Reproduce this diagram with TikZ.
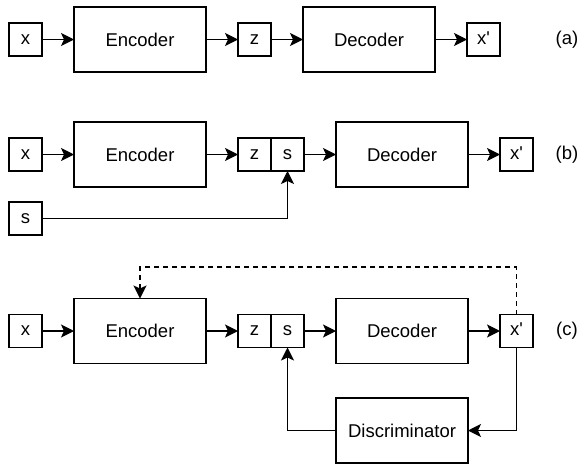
\documentclass[tikz,border=0pt]{standalone}
\usepackage{fontspec}
\setmainfont{Liberation Sans}
\usetikzlibrary{positioning,arrows.meta}
\tikzset{arrow/.style={-{Stealth[length=13pt,width=13pt,inset=3pt]}, line width=1.3pt}}
\tikzstyle{feedback} = [arrow, dash pattern=on 5pt off 4pt]
\tikzstyle{block} = [rectangle, draw, line width=1.3pt, outer sep=0pt, minimum width=132pt, minimum height=65pt, font=\fontsize{18.5}{22}\selectfont]
\tikzstyle{var} = [rectangle, draw, line width=1.3pt, outer sep=0pt, inner sep=0pt, minimum size=33pt, text height=9.5pt, text depth=0pt, font=\fontsize{18.5}{22}\selectfont]
\tikzstyle{tag} = [font=\fontsize{18.5}{22}\selectfont]

\begin{document}
\begin{tikzpicture}[x=1pt, y=-1pt, node distance=32pt]
    \useasboundingbox (0,0) rectangle (582,464);

    % Row (a)
    \node[var] (xa) at (25.5,39.5) {x};
    \node[block, right=of xa] (enca) {Encoder};
    \node[var, right=of enca] (za) {z};
    \node[block, right=of za] (deca) {Decoder};
    \node[var, right=of deca] (outa) {x\textquotesingle};
    \node[tag] (taga) at (567,39.5) {(a)};

    \draw[arrow] (xa) -- (enca);
    \draw[arrow] (enca) -- (za);
    \draw[arrow] (za) -- (deca);
    \draw[arrow] (deca) -- (outa);

    % Row (b)
    \node[var] (xb) at (25.5,154.5) {x};
    \node[block, right=of xb] (encb) {Encoder};
    \node[var, right=of encb] (zb) {z};
    \node[var, right=0pt of zb] (sb) {s};
    \node[block, right=of sb] (decb) {Decoder};
    \node[var, right=of decb] (outb) {x\textquotesingle};
    \node[var] (inb) at (25.5,218.5) {s};
    \node[tag] (tagb) at (567,154.5) {(b)};

    \draw[arrow] (xb) -- (encb);
    \draw[arrow] (encb) -- (zb);
    \draw[arrow] (sb) -- (decb);
    \draw[arrow] (decb) -- (outb);
    \draw[arrow] (inb) -| (sb);

    % Row (c)
    \node[var] (xc) at (25.5,331) {x};
    \node[block, right=of xc] (encc) {Encoder};
    \node[var, right=of encc] (zc) {z};
    \node[var, right=0pt of zc] (sc) {s};
    \node[block, right=of sc] (decc) {Decoder};
    \node[var, right=of decc] (outc) {x\textquotesingle};
    \node[block] (disc) at (decc |- 0,430.5) {Discriminator};
    \node[tag] (tagc) at (567,331) {(c)};
    \coordinate (loop) at (0,267);

    \draw[arrow] (xc) -- (encc);
    \draw[arrow] (encc) -- (zc);
    \draw[arrow] (sc) -- (decc);
    \draw[arrow] (decc) -- (outc);
    \draw[arrow] (outc) |- (disc);
    \draw[arrow] (disc) -| (sc);
    \draw[feedback] (outc.north) -- (outc.north |- loop) -| (encc.north);
\end{tikzpicture}
\end{document}
